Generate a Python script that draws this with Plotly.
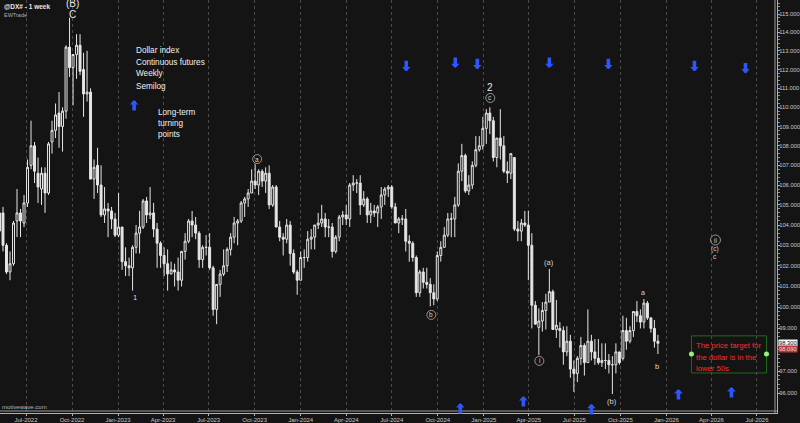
import numpy as np
import pandas as pd
import plotly.graph_objects as go

# ---------------- data (weekly candles, Dollar index continuous futures) ----------------
first_week = "2022-05-09"

open_2022 = [103.7, 104.6, 103.0, 101.7, 102.1, 104.2, 104.6, 104.1, 105.1, 107.0, 108.0, 106.6, 105.8, 106.6,
             105.6, 108.2, 108.8, 109.7, 109.0, 109.8, 113.2, 112.1, 112.8, 113.3, 112.0, 110.7, 110.8, 106.3,
             107.0, 106.0, 104.5, 104.8, 104.7, 104.3]
high_2022 = [105.1, 104.9, 103.1, 102.7, 104.2, 105.8, 104.8, 105.5, 107.3, 109.3, 108.2, 107.4, 106.9, 106.9,
             108.2, 109.3, 110.2, 110.8, 110.0, 113.3, 114.8, 112.8, 113.9, 113.9, 112.9, 113.0, 111.0, 107.3,
             107.9, 107.0, 105.9, 105.1, 104.9, 104.6]
low_2022 = [103.4, 102.7, 101.6, 101.3, 102.0, 103.4, 103.4, 103.9, 104.9, 106.8, 106.1, 105.1, 105.0, 104.6,
            105.5, 107.6, 108.4, 107.9, 107.7, 109.4, 111.6, 110.1, 111.5, 111.7, 109.5, 110.3, 106.3, 105.3,
            105.6, 104.4, 104.1, 103.4, 103.8, 103.4]
close_2022 = [104.6, 103.0, 101.7, 102.1, 104.1, 104.6, 104.2, 105.1, 106.9, 108.0, 106.7, 105.9, 106.6, 105.6,
              108.1, 108.8, 109.6, 109.0, 109.8, 113.2, 112.1, 112.8, 113.3, 111.9, 110.7, 110.8, 106.3, 106.9,
              106.0, 104.5, 104.8, 104.7, 104.3, 103.5]

open_2023 = [103.5, 103.9, 102.2, 102.0, 101.9, 102.9, 103.6, 103.9, 105.2, 104.5, 104.6, 103.8, 103.1, 102.5,
             102.1, 101.6, 101.8, 101.7, 101.3, 102.7, 103.2, 104.2, 104.0, 103.6, 102.3, 102.9, 102.9, 101.9,
             99.9, 101.1, 101.6, 102.0, 102.8, 103.4, 104.1, 104.2, 105.1, 105.3, 105.6, 106.2, 106.0, 106.7,
             106.2, 106.6, 105.0, 105.9, 103.9, 103.4, 103.3, 104.0, 102.6, 101.7]
high_2023 = [105.6, 103.9, 102.9, 102.4, 103.0, 104.0, 104.7, 105.3, 105.4, 105.9, 105.1, 104.1, 103.2, 102.9,
             102.8, 102.2, 102.1, 102.4, 102.7, 103.6, 104.3, 104.7, 104.4, 103.7, 103.0, 103.5, 103.6, 102.0,
             101.1, 101.8, 102.8, 102.9, 103.6, 104.4, 104.3, 105.2, 105.4, 105.8, 106.8, 107.05, 106.8, 106.8,
             106.9, 107.0, 106.0, 106.0, 104.2, 103.6, 104.3, 104.2, 102.8, 101.8]
low_2023 = [103.4, 101.8, 101.5, 101.5, 100.8, 102.6, 102.6, 103.8, 104.1, 104.3, 103.4, 101.9, 101.9, 101.5,
            100.8, 101.6, 101.0, 100.8, 101.0, 102.3, 103.1, 103.4, 103.3, 101.9, 101.9, 102.5, 101.8, 99.6,
            99.2, 100.5, 101.5, 101.7, 102.5, 103.1, 103.0, 104.1, 104.4, 104.9, 105.6, 105.8, 105.5, 105.9,
            105.6, 104.8, 104.9, 103.9, 103.2, 102.5, 103.1, 102.0, 101.6, 100.6]
close_2023 = [103.9, 102.2, 102.0, 101.9, 102.9, 103.6, 103.9, 105.2, 104.5, 104.6, 103.8, 103.1, 102.5, 102.1,
              101.6, 101.8, 101.7, 101.3, 102.7, 103.2, 104.2, 104.0, 103.6, 102.3, 102.9, 102.9, 101.9, 99.9,
              101.1, 101.6, 102.0, 102.8, 103.4, 104.1, 104.2, 105.1, 105.3, 105.6, 106.2, 106.0, 106.7, 106.2,
              106.6, 105.0, 105.9, 103.9, 103.4, 103.3, 104.0, 102.6, 101.7, 101.3]

open_2024 = [101.3, 102.4, 102.4, 103.3, 103.4, 104.0, 104.1, 104.3, 103.9, 103.9, 102.7, 103.4, 104.4, 104.5,
             104.3, 106.0, 106.1, 106.1, 105.0, 105.3, 104.5, 104.7, 104.6, 104.9, 105.5, 105.8, 105.9, 104.9,
             104.1, 104.3, 104.3, 103.2, 103.1, 102.4, 100.7, 101.7, 101.2, 101.1, 100.7, 100.4, 102.5, 102.9,
             103.5, 104.3, 104.3, 105.0, 106.7, 107.5, 105.7, 106.0, 107.0, 107.8, 108.0]
high_2024 = [102.7, 102.8, 103.7, 103.8, 104.0, 104.6, 105.0, 104.6, 104.3, 104.1, 103.5, 104.5, 104.7, 105.0,
             106.1, 106.5, 106.3, 106.5, 105.7, 105.4, 105.1, 105.0, 105.0, 105.9, 105.9, 106.0, 106.0, 105.1,
             104.4, 104.5, 104.8, 103.5, 103.2, 102.5, 101.8, 101.9, 101.9, 101.4, 101.1, 102.7, 103.2, 103.9,
             104.6, 104.6, 105.4, 107.1, 108.1, 107.6, 106.5, 107.2, 108.5, 108.5, 109.5]
low_2024 = [101.3, 101.9, 102.2, 102.8, 102.8, 103.8, 103.9, 103.4, 103.4, 102.4, 102.6, 103.2, 104.0, 104.0,
            103.9, 105.7, 105.6, 104.5, 104.9, 104.1, 104.1, 104.4, 103.9, 104.3, 105.0, 105.4, 104.8, 104.1,
            103.6, 104.0, 102.7, 102.2, 102.2, 100.5, 100.5, 100.9, 100.9, 100.05, 100.1, 100.3, 102.2, 102.9,
            103.4, 103.4, 103.4, 104.9, 106.2, 105.6, 105.5, 105.8, 106.9, 107.7, 107.8]
close_2024 = [102.4, 102.4, 103.3, 103.4, 104.0, 104.1, 104.3, 103.9, 103.9, 102.7, 103.4, 104.4, 104.5, 104.3,
              106.0, 106.1, 106.1, 105.0, 105.3, 104.5, 104.7, 104.6, 104.9, 105.5, 105.8, 105.9, 104.9, 104.1,
              104.3, 104.3, 103.2, 103.1, 102.4, 100.7, 101.7, 101.2, 101.1, 100.7, 100.4, 102.5, 102.9, 103.5,
              104.3, 104.3, 105.0, 106.7, 107.5, 105.7, 106.0, 107.0, 107.8, 108.0, 108.9]

open_2025 = [108.9, 109.7, 109.3, 107.4, 108.4, 108.0, 106.7, 106.6, 107.4, 103.8, 103.7, 104.1, 104.0, 103.0,
             100.1, 99.05, 99.35, 99.85, 100.25, 100.75, 98.95, 99.0, 98.9, 97.9, 98.4, 97.1, 96.9, 97.6, 98.2,
             97.4, 98.4, 97.9, 97.6, 97.4, 97.5, 97.5, 97.3, 97.3, 97.9, 97.6, 98.9, 98.4, 98.9, 99.8, 99.6, 99.3,
             100.2, 99.5, 99.0, 98.4]
high_2025 = [109.9, 110.0, 109.5, 108.4, 109.9, 108.5, 107.2, 107.6, 107.4, 104.2, 104.3, 104.7, 104.7, 103.6,
             100.3, 99.95, 100.25, 100.65, 101.85, 100.85, 100.35, 99.3, 99.1, 99.1, 98.7, 97.5, 97.7, 98.6,
             98.3, 99.9, 98.7, 98.5, 98.5, 98.3, 98.3, 97.8, 97.7, 98.3, 97.9, 99.6, 99.5, 99.1, 99.8, 100.3,
             99.9, 100.4, 100.3, 99.5, 99.4, 98.7]
low_2025 = [108.1, 108.6, 107.2, 106.9, 107.3, 106.6, 106.1, 106.3, 103.7, 103.2, 103.2, 103.9, 101.3, 99.0,
            99.2, 97.75, 98.85, 98.95, 100.25, 98.95, 98.55, 98.1, 97.3, 97.7, 96.7, 96.05, 96.5, 97.3, 96.8,
            97.4, 97.5, 97.3, 97.3, 97.2, 97.1, 96.9, 95.95, 96.9, 97.3, 97.5, 98.0, 98.3, 98.6, 99.3, 99.0,
            99.0, 99.4, 98.8, 98.1, 97.8]
close_2025 = [109.7, 109.3, 107.4, 108.4, 108.0, 106.7, 106.6, 107.6, 103.8, 103.7, 104.1, 104.0, 103.0, 100.1,
              99.2, 99.35, 99.85, 100.25, 100.75, 98.95, 99.15, 98.9, 97.9, 98.4, 97.1, 96.9, 97.6, 98.2, 97.4,
              98.4, 97.9, 97.6, 97.4, 97.5, 97.5, 97.3, 97.3, 97.9, 97.4, 98.9, 98.4, 98.9, 99.8, 99.6, 99.3,
              100.2, 99.5, 99.0, 98.4, 98.3]

opens = open_2022 + open_2023 + open_2024 + open_2025
highs = high_2022 + high_2023 + high_2024 + high_2025
lows = low_2022 + low_2023 + low_2024 + low_2025
closes = close_2022 + close_2023 + close_2024 + close_2025
weeks = pd.date_range(first_week, periods=len(closes), freq="7D")

# axis ticks
x_tick_dates = ["2022-07-01", "2022-10-01", "2023-01-01", "2023-04-01", "2023-07-01", "2023-10-01",
                "2024-01-01", "2024-04-01", "2024-07-01", "2024-10-01", "2025-01-01", "2025-04-01",
                "2025-07-01", "2025-10-01", "2026-01-01", "2026-04-01", "2026-07-01"]
x_tick_labels = ["Jul-2022", "Oct-2022", "Jan-2023", "Apr-2023", "Jul-2023", "Oct-2023", "Jan-2024",
                 "Apr-2024", "Jul-2024", "Oct-2024", "Jan-2025", "Apr-2025", "Jul-2025", "Oct-2025",
                 "Jan-2026", "Apr-2026", "Jul-2026"]
y_tick_values = [96, 97, 98, 99, 100, 101, 102, 103, 104, 105, 106, 107, 108, 109, 110, 111, 112, 113, 114, 115]
y_tick_labels = ["" if v == 98 else f"{v:.3f}" for v in y_tick_values]   # 98 is hidden under the price tags
y_minor_values = [round(v + k * 0.2, 1) for v in y_tick_values for k in range(1, 5)]

# wave labels: (text, date, value, size, colour)
plain_labels = [("(B)", "2022-10-01", 115.55, 10, "#e8e8e8"),
                ("C", "2022-10-01", 115.0, 10, "#e8e8e8"),
                ("1", "2023-02-04", 100.49, 7.5, "#dcdcdc"),
                ("2", "2025-01-14", 111.02, 10, "#e8e8e8"),
                ("(a)", "2025-05-12", 102.14, 7.5, "#d8d8d8"),
                ("(b)", "2025-09-15", 95.59, 7.5, "#d8d8d8"),
                ("a", "2025-11-16", 100.69, 7, "#d8d8d8"),
                ("b", "2025-12-14", 97.24, 7.5, "#d8d8d8"),
                ("(c)", "2026-04-09", 102.82, 6.5, "#d0d0d0"),
                ("c", "2026-04-09", 102.43, 6.5, "#d0d0d0")]
circled_labels = [("a", "2023-10-06", 107.32),
                  ("b", "2024-09-18", 99.64),
                  ("c", "2025-01-14", 110.49),
                  ("i", "2025-04-22", 97.48),
                  ("ii", "2026-04-09", 103.26)]

# blue arrows: value at the arrow tip
down_arrows = [("2024-07-30", 111.90), ("2024-11-05", 112.08), ("2024-12-19", 112.01), ("2025-05-12", 112.08),
               ("2025-09-07", 112.01), ("2026-02-26", 111.90), ("2026-06-08", 111.79)]
up_arrows = [("2024-11-15", 95.54), ("2025-03-21", 95.86), ("2025-08-04", 95.50), ("2026-01-25", 96.18),
             ("2026-05-11", 96.27), ("2023-02-02", 110.38)]

info_lines = [("Dollar index", 113.04), ("Continuous futures", 112.40), ("Weekly", 111.76), ("Semilog", 111.12)]
info_date = "2023-02-02"
legend_lines = [("Long-term", 109.75), ("turning", 109.13), ("points", 108.56)]
legend_date = "2023-03-18"

target_box_dates = ["2026-02-20", "2026-07-20"]
target_box_values = [98.65, 96.92]
target_dot_value = 97.80
target_text = [("The price target for", 98.18), ("the dollar is in the", 97.66), ("lower 50s", 97.15)]
target_text_date = "2026-02-26"

last_price = 98.300
alt_price = 98.090

# ---------------- figure ----------------
BG = "#141414"
FONT = "Liberation Sans, Arial, sans-serif"
lg = np.log10

fig = go.Figure()
fig.add_trace(go.Candlestick(
    x=weeks, open=opens, high=highs, low=lows, close=closes,
    increasing=dict(line=dict(color="#e6e6e6", width=1), fillcolor=BG),
    decreasing=dict(line=dict(color="#e6e6e6", width=1), fillcolor="#e6e6e6"),
    whiskerwidth=0, showlegend=False, hoverinfo="skip"))

# target box
d0, d1 = target_box_dates
vt, vb = target_box_values
fig.add_trace(go.Scatter(x=[d0, d1, d1, d0, d0], y=[vt, vt, vb, vb, vt], mode="lines",
                         line=dict(color="#1f6a1f", width=1), showlegend=False, hoverinfo="skip"))
fig.add_trace(go.Scatter(x=[d0, d1], y=[target_dot_value] * 2, mode="markers",
                         marker=dict(color="#9af07a", size=5), showlegend=False, hoverinfo="skip"))

# circles for circled labels
fig.add_trace(go.Scatter(x=[c[1] for c in circled_labels], y=[c[2] for c in circled_labels], mode="markers",
                         marker=dict(symbol="circle-open", size=[9, 9, 9, 9, 10], color="#c4c4c4",
                                     line=dict(width=1, color="#c4c4c4")),
                         showlegend=False, hoverinfo="skip"))

ann = []
for txt, d, v, sz, col in plain_labels:
    ann.append(dict(x=d, y=lg(v), text=txt, showarrow=False, font=dict(size=sz, color=col, family=FONT),
                    xanchor="center", yanchor="middle"))
for txt, d, v in circled_labels:
    ann.append(dict(x=d, y=lg(v), text=txt, showarrow=False, font=dict(size=6.5, color="#d0d0d0", family=FONT),
                    xanchor="center", yanchor="middle"))
for d, v in down_arrows:
    ann.append(dict(x=d, y=lg(v), text="", showarrow=True, ax=0, ay=-12, arrowhead=1,
                    arrowsize=0.4, arrowwidth=3.6, arrowcolor="#2f55ff", standoff=0, startstandoff=0))
for d, v in up_arrows:
    ann.append(dict(x=d, y=lg(v), text="", showarrow=True, ax=0, ay=12, arrowhead=1,
                    arrowsize=0.4, arrowwidth=3.6, arrowcolor="#2f55ff", standoff=0, startstandoff=0))
for txt, v in info_lines:
    ann.append(dict(x=info_date, y=lg(v), text=txt, showarrow=False, xanchor="left", yanchor="middle",
                    font=dict(size=8.2, color="#f0f0f0", family=FONT)))
for txt, v in legend_lines:
    ann.append(dict(x=legend_date, y=lg(v), text=txt, showarrow=False, xanchor="left", yanchor="middle",
                    font=dict(size=8.2, color="#f0f0f0", family=FONT)))
for txt, v in target_text:
    ann.append(dict(x=target_text_date, y=lg(v), text=txt, showarrow=False, xanchor="left", yanchor="middle",
                    font=dict(size=7.7, color="#ff2a2a", family=FONT)))

# header + watermark
ann.append(dict(xref="paper", yref="paper", x=0.003, y=1.0, yshift=-1, text="<b>@DX# - 1 week</b>",
                showarrow=False, xanchor="left", yanchor="top", font=dict(size=6.5, color="#e8e8e8", family=FONT)))
ann.append(dict(xref="paper", yref="paper", x=0.003, y=1.0, yshift=-10, text="EWTrade",
                showarrow=False, xanchor="left", yanchor="top", font=dict(size=5.5, color="#b0b0b0", family=FONT)))
ann.append(dict(xref="paper", yref="paper", x=0.0, y=0.0, yshift=1, text="motivewave.com",
                showarrow=False, xanchor="left", yanchor="bottom", font=dict(size=6, color="#b8b8b8", family=FONT)))

# right-side price tags
ann.append(dict(xref="paper", x=1.0, xshift=1, y=lg(last_price), text=f"{last_price:.3f}", showarrow=False,
                xanchor="left", yanchor="middle", bgcolor="#f4f4f4", borderpad=0,
                font=dict(size=5.8, color="#202020", family=FONT)))
ann.append(dict(xref="paper", x=1.0, xshift=1, y=lg(alt_price), yshift=-1, text=f"{alt_price:.3f}", showarrow=False,
                xanchor="left", yanchor="middle", bgcolor="#b83a3a", borderpad=0,
                font=dict(size=5.8, color="#f0d0d0", family=FONT)))

shapes = [
    dict(type="line", xref="paper", yref="paper", xsizemode="pixel", xanchor=1, x0=-2, x1=-2, y0=0, y1=1,
         line=dict(color="#9a9a9a", width=1)),
    dict(type="line", xref="paper", yref="paper", ysizemode="pixel", yanchor=0, y0=2, y1=2, x0=0, x1=1,
         line=dict(color="#9a9a9a", width=1)),
]

fig.update_layout(
    width=800, height=423,
    margin=dict(l=0, r=23, t=0, b=10, pad=0, autoexpand=False),
    paper_bgcolor=BG, plot_bgcolor=BG, boxgap=0.2,
    font=dict(family=FONT, color="#c8c8c8"),
    annotations=ann, shapes=shapes, showlegend=False,
    xaxis=dict(type="date", range=["2022-05-10", "2026-08-10"], rangeslider=dict(visible=False),
               tickvals=x_tick_dates, ticktext=x_tick_labels, tickfont=dict(size=6, color="#c8c8c8"),
               showgrid=True, gridcolor="#4a4a4a", griddash="3px,3px", gridwidth=1,
               showline=True, linecolor="#b0b0b0", linewidth=1, ticks="outside", ticklen=2,
               tickcolor="#b0b0b0", zeroline=False, fixedrange=True, automargin=False,
               ticklabelstandoff=-1),
    yaxis=dict(type="log", side="right", range=[lg(95.09), lg(115.77)],
               tickvals=y_tick_values, ticktext=y_tick_labels, tickfont=dict(size=5.8, color="#c8c8c8"),
               showgrid=False, showline=True, linecolor="#b0b0b0", linewidth=1, ticks="outside",
               ticklen=2, tickcolor="#b0b0b0", zeroline=False, automargin=False, ticklabelstandoff=-2,
               minor=dict(tickvals=y_minor_values, ticklen=1.5, tickcolor="#909090", ticks="outside",
                          showgrid=False)),
)

# the page itself should not add its default 8px body margin around the figure
page_fix = "document.body.style.margin='0px';document.body.style.background='#141414';"
fig.write_html("out.html", post_script=page_fix, config={"displayModeBar": False, "staticPlot": True})
